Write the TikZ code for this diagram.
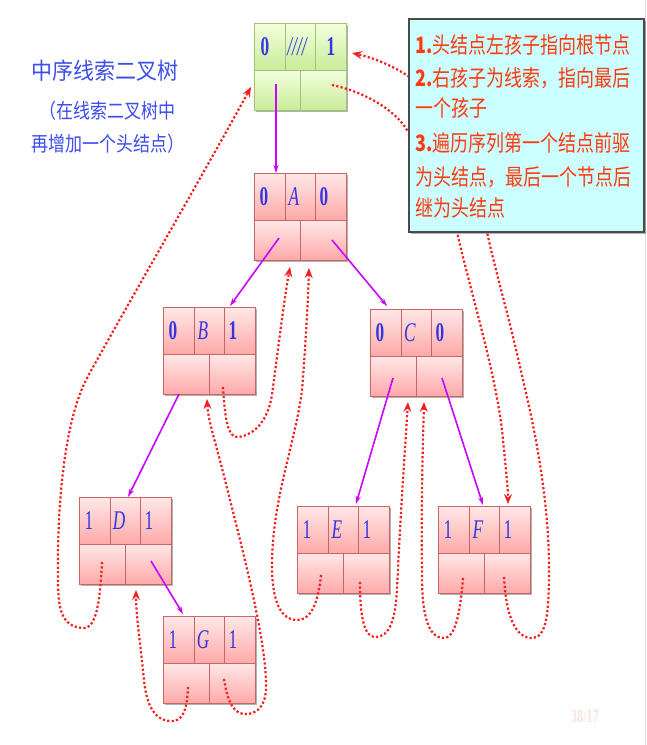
\documentclass[tikz,border=0pt]{standalone}
\usepackage{fontspec}
\usepackage{graphicx}
\setmainfont{Liberation Serif}
\newfontfamily\cjk{Noto Sans CJK SC}
\usetikzlibrary{calc,arrows.meta,shadows}
\definecolor{pinktop}{HTML}{FFE8E8}
\definecolor{pinkbot}{HTML}{FFA9A9}
\definecolor{pinkborder}{HTML}{C86666}
\definecolor{greentop}{HTML}{F4FFDF}
\definecolor{greenbot}{HTML}{C9EC98}
\definecolor{greenborder}{HTML}{A3C274}
\definecolor{cellblue}{HTML}{3535E0}
\definecolor{purp}{HTML}{CC00FF}
\definecolor{threadred}{HTML}{F41E1E}
\definecolor{notefill}{HTML}{CCFFFF}
\definecolor{noteborder}{HTML}{4A4A4A}
\definecolor{notetext}{HTML}{FF3A10}
\definecolor{titleblue}{HTML}{3D4DEE}
\definecolor{wmark}{HTML}{FBE2E2}
\newcommand\cnd[1]{\scalebox{0.64}[1]{#1}}
\newcommand\treenode[7]{%
  \node[tnode,draw=#4border,fill=#4bot] (#1) at (#2,#3) {};
  \shade[top color=#4top,bottom color=#4bot] (#1.north west) rectangle ($(#1.north east)+(0,47)$);
  \shade[top color=#4top,bottom color=#4bot] ($(#1.north west)+(0,47)$) rectangle (#1.south east);
  \draw[draw=#4border,line width=0.9pt]
     ($(#1.north west)+(31,0)$) -- ++(0,47)
     ($(#1.north west)+(61,0)$) -- ++(0,47)
     ($(#1.north west)+(0,47)$) -- ($(#1.north east)+(0,47)$)
     ($(#1.north west)+(46,47)$) -- ++(0,40);
  \draw[draw=#4border,line width=1pt] (#1.north west) rectangle (#1.south east);
  \node[celltxt] (#1-l) at ($(#1.north west)+(10,24)$) {#5};
  \node[celltxt] (#1-d) at ($(#1.north west)+(40,24)$) {#6};
  \node[celltxt] (#1-r) at ($(#1.north west)+(70,24)$) {#7};
}
\begin{document}
\begin{tikzpicture}[x=1pt,y=-1pt,
  tnode/.style={minimum width=92pt,minimum height=87pt,inner sep=0pt,outer sep=0pt,
    anchor=north west,drop shadow={shadow xshift=1.5pt,shadow yshift=-2pt,opacity=0.3,fill=black}},
  celltxt/.style={inner sep=0pt,text=cellblue,font=\fontsize{27}{27}\selectfont},
  purpline/.style={draw=purp,line width=1.6pt,-{Stealth[length=8pt,width=5pt,inset=2.5pt]}},
  thread/.style={draw=threadred,line width=2.2pt,dash pattern=on 2.2pt off 2.2pt,
    -{Stealth[length=10pt,width=8pt,inset=3.5pt]}},
  note/.style={anchor=north west,minimum width=235pt,minimum height=213pt,inner sep=0pt,
    fill=notefill,draw=noteborder,line width=1.5pt,
    drop shadow={shadow xshift=2pt,shadow yshift=-2pt,opacity=0.3,fill=black}},
  noteline/.style={anchor=west,inner sep=0pt,text=notetext,font=\cjk\fontsize{18}{18}\selectfont},
  titletxt/.style={inner sep=0pt,text=titleblue}
]
\useasboundingbox (0,0) rectangle (646,745);
\fill[white] (0,0) rectangle (646,745);
\draw[gray!25,line width=0.8pt] (645,0) -- (645,745);

% title
\node[titletxt,font=\cjk\fontsize{21}{21}\selectfont] (title1) at (105,71) {\scalebox{1}[1.1]{中序线索二叉树}};
\node[titletxt,font=\cjk\fontsize{17}{17}\selectfont] (title2) at (107,111) {\scalebox{1}[1.2]{（在线索二叉树中}};
\node[titletxt,font=\cjk\fontsize{17}{17}\selectfont] (title3) at (108,144) {\scalebox{1}[1.2]{再增加一个头结点）}};

% nodes
\treenode{hd}{254}{23}{green}{}{}{}
\node[celltxt] (hd-l0) at ($(hd.north west)+(11,24)$) {\cnd{\bfseries 0}};
\node[celltxt] (hd-d0) at ($(hd.north west)+(43,24)$) {\cnd{\itshape ////}};
\node[celltxt] (hd-r0) at ($(hd.north west)+(77,24)$) {\cnd{\bfseries 1}};
\treenode{A}{254}{173}{pink}{\cnd{\bfseries 0}}{\cnd{\itshape A}}{\cnd{\bfseries 0}}
\treenode{B}{163}{307}{pink}{\cnd{\bfseries 0}}{\cnd{\itshape B}}{\cnd{\bfseries 1}}
\treenode{C}{370}{309}{pink}{\cnd{\bfseries 0}}{\cnd{\itshape C}}{\cnd{\bfseries 0}}
\treenode{D}{79}{497}{pink}{\cnd{1}}{\cnd{\itshape D}}{\cnd{1}}
\treenode{E}{297}{506}{pink}{\cnd{1}}{\cnd{\itshape E}}{\cnd{1}}
\treenode{F}{438}{506}{pink}{\cnd{1}}{\cnd{\itshape F}}{\cnd{1}}
\treenode{G}{163}{616}{pink}{\cnd{1}}{\cnd{\itshape G}}{\cnd{1}}

% child pointers
\draw[purpline] ($(hd.north west)+(22,61)$) -- ($(A.north west)+(22,0)$);
\draw[purpline] ($(A.north west)+(25,65)$) -- ($(B.north west)+(67,-1)$);
\draw[purpline] ($(A.north west)+(78,67)$) -- ($(C.north west)+(17,-3)$);
\draw[purpline] ($(B.north west)+(16,87)$) -- ($(D.north west)+(49,0)$);
\draw[purpline] ($(C.north west)+(23,69)$) -- ($(E.north west)+(59,-2)$);
\draw[purpline] ($(C.north west)+(72,69)$) -- ($(F.north west)+(45,-1)$);
\draw[purpline] ($(D.north west)+(72,64)$) -- ($(G.north west)+(20,-2)$);

% threads
\draw[thread] ($(D.north west)+(23,65)$) .. controls (100,600) and (97,630) .. (82,628)
  .. controls (62,626) and (58,610) .. (58,580)
  .. controls (57,500) and (65,420) .. (87,378)
  .. controls (130,300) and (200,180) .. ($(hd.north west)+(-3,64)$);
\draw[thread] ($(G.north west)+(25,71)$) .. controls (187,712) and (182,722) .. (170,721)
  .. controls (152,720) and (146,700) .. (144,680)
  .. controls (140,640) and (136,615) .. ($(D.north west)+(57,93)$);
\draw[thread] ($(G.north west)+(61,63)$) .. controls (228,705) and (235,715) .. (247,714)
  .. controls (262,713) and (267,700) .. (266,680)
  .. controls (264,630) and (240,540) .. (225,480)
  .. controls (215,440) and (208,420) .. ($(B.north west)+(44,92)$);
\draw[thread] ($(B.north west)+(60,80)$) .. controls (225,420) and (228,438) .. (238,437)
  .. controls (255,435) and (268,420) .. (272,395)
  .. controls (278,350) and (284,300) .. ($(A.north west)+(36,94)$);
\draw[thread] ($(E.north west)+(24,69)$) .. controls (318,605) and (310,621) .. (296,620)
  .. controls (280,619) and (272,600) .. (272,565)
  .. controls (272,500) and (296,440) .. (302,390)
  .. controls (306,340) and (308,300) .. ($(A.north west)+(55,95)$);
\draw[thread] ($(E.north west)+(63,76)$) .. controls (360,620) and (365,637) .. (375,637)
  .. controls (390,637) and (395,620) .. (397,590)
  .. controls (400,520) and (405,450) .. ($(C.north west)+(38,93)$);
\draw[thread] ($(F.north west)+(25,72)$) .. controls (460,615) and (455,639) .. (443,638)
  .. controls (428,637) and (422,615) .. (422,575)
  .. controls (421,500) and (423,440) .. ($(C.north west)+(54,93)$);
\draw[thread] ($(F.north west)+(66,71)$) .. controls (506,615) and (515,639) .. (533,638)
  .. controls (546,637) and (549,615) .. (549,570)
  .. controls (549,500) and (535,430) .. (523,380)
  .. controls (510,320) and (495,270) .. (487,232)
  .. controls (470,150) and (430,90) .. (408,76)
  .. controls (390,64) and (370,57) .. ($(hd.north west)+(98,30)$);
\draw[thread] ($(hd.north west)+(78,62)$) .. controls (365,92) and (395,110) .. (407,130)
  .. controls (430,165) and (450,200) .. (457,232)
  .. controls (470,290) and (498,380) .. (503,440)
  .. controls (506,470) and (508,490) .. ($(F.north west)+(70,-2)$);

% note box
\node[note] (note) at (408,18) {};
\node[noteline] (n1) at (415,45) {\scalebox{1}[1.25]{{\bfseries 1.}头结点左孩子指向根节点}};
\node[noteline] (n2) at (415,78) {\scalebox{1}[1.25]{{\bfseries 2.}右孩子为线索，指向最后}};
\node[noteline] (n3) at (415,108) {\scalebox{1}[1.25]{一个孩子}};
\node[noteline] (n4) at (415,143) {\scalebox{1}[1.25]{{\bfseries 3.}遍历序列第一个结点前驱}};
\node[noteline] (n5) at (415,177) {\scalebox{1}[1.25]{为头结点，最后一个节点后}};
\node[noteline] (n6) at (415,208) {\scalebox{1}[1.25]{继为头结点}};

% watermark
\node[inner sep=0pt,text=wmark,font=\bfseries\fontsize{19}{19}\selectfont] (wm) at (585,716) {\cnd{38/17}};
\end{tikzpicture}
\end{document}
